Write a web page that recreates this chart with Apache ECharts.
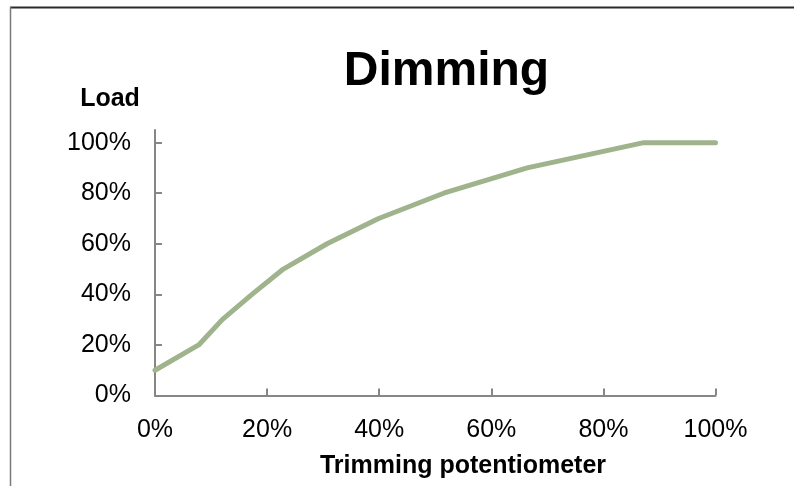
<!DOCTYPE html>
<html>
<head>
<meta charset="utf-8">
<script src="https://cdn.jsdelivr.net/npm/echarts@6/dist/echarts.min.js"></script>
<style>html,body{margin:0;padding:0;background:#fff;}#c{width:794px;height:486px;}</style>
</head>
<body>
<div id="c"></div>
<script>
var trimming = [0, 7.8, 12, 17.3, 22.9, 30.7, 39.9, 51.5, 66.4, 87.2, 100];
var load = [10, 20, 30, 40, 50, 60, 70, 80, 90, 100, 100];
var yTicks = [0, 20, 40, 60, 80, 100];
var xTicks = [0, 20, 40, 60, 80, 100];
var titleText = 'Dimming';
var yName = 'Load';
var xName = 'Trimming potentiometer';

var FONT = '"Liberation Sans", Arial, sans-serif';
var chart = echarts.init(document.getElementById('c'), null, {renderer: 'canvas'});
var axisCol = '#868686';
chart.setOption({
  animation: false,
  backgroundColor: '#ffffff',
  grid: {left: 155, right: 78.5, top: 130, bottom: 90.5, containLabel: false},
  xAxis: {
    type: 'value', min: 0, max: 100, interval: 20,
    axisLine: {show: true, lineStyle: {color: axisCol, width: 2}},
    axisTick: {show: true, inside: true, length: 7, lineStyle: {color: axisCol, width: 2}},
    axisLabel: {margin: 22, fontFamily: FONT, fontSize: 25, color: '#000', formatter: '{value}%', customValues: xTicks},
    splitLine: {show: false}
  },
  yAxis: {
    type: 'value', min: 0, max: 105,
    axisLine: {show: true, lineStyle: {color: axisCol, width: 2}},
    axisTick: {show: true, inside: true, length: 7, lineStyle: {color: axisCol, width: 2}, customValues: yTicks},
    axisLabel: {margin: 24, fontFamily: FONT, fontSize: 25, color: '#000', formatter: '{value}%', customValues: yTicks},
    splitLine: {show: false}
  },
  series: [{
    type: 'line',
    data: trimming.map(function (x, i) { return [x, load[i]]; }),
    showSymbol: false,
    symbol: 'none',
    lineStyle: {color: '#9fb38c', width: 5, cap: 'round', join: 'round'},
    z: 3
  }],
  graphic: [
    {type: 'line', shape: {x1: 10, y1: 7.5, x2: 794, y2: 7.5}, style: {stroke: '#2b2b2b', lineWidth: 2}},
    {type: 'line', shape: {x1: 10.5, y1: 7, x2: 10.5, y2: 486}, style: {stroke: '#7a7a7a', lineWidth: 1.5}},
    {type: 'text', x: 446.5, y: 72, style: {text: titleText, font: 'bold 48px ' + FONT, fill: '#000', textAlign: 'center', textVerticalAlign: 'middle'}},
    {type: 'text', x: 110, y: 99, style: {text: yName, font: 'bold 25px ' + FONT, fill: '#000', textAlign: 'center', textVerticalAlign: 'middle'}},
    {type: 'text', x: 463, y: 466, style: {text: xName, font: 'bold 25px ' + FONT, fill: '#000', textAlign: 'center', textVerticalAlign: 'middle'}}
  ]
});
</script>
</body>
</html>
